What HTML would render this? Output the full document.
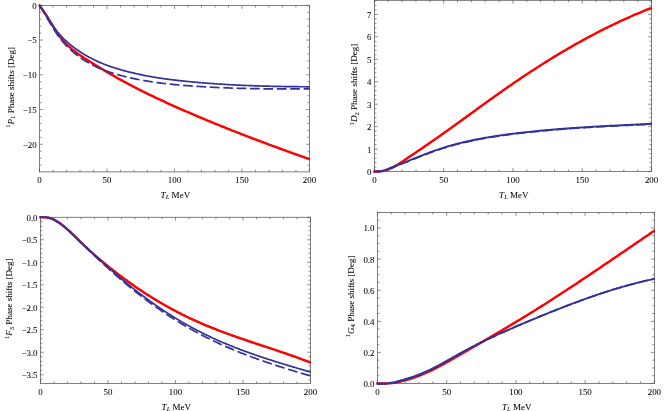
<!DOCTYPE html>
<html><head><meta charset="utf-8"><title>Phase shifts</title>
<style>
html,body{margin:0;padding:0;background:#fff;}
body{width:664px;height:411px;overflow:hidden;font-family:"Liberation Serif",serif;}
svg{display:block;will-change:transform;filter:opacity(1);}
</style></head><body>
<svg width="664" height="411" viewBox="0 0 664 411">
<rect width="664" height="411" fill="#ffffff"/>
<g id="panel1">
<g stroke="#4a4a4a" stroke-width="0.7" fill="none">
<rect x="39.55" y="5.50" width="269.90" height="166.40"/>
<path d="M39.55,171.90v-3.37M39.55,5.50v3.37M53.04,171.90v-2.02M53.04,5.50v2.02M66.54,171.90v-2.02M66.54,5.50v2.02M80.03,171.90v-2.02M80.03,5.50v2.02M93.53,171.90v-2.02M93.53,5.50v2.02M107.02,171.90v-3.37M107.02,5.50v3.37M120.52,171.90v-2.02M120.52,5.50v2.02M134.01,171.90v-2.02M134.01,5.50v2.02M147.51,171.90v-2.02M147.51,5.50v2.02M161.00,171.90v-2.02M161.00,5.50v2.02M174.50,171.90v-3.37M174.50,5.50v3.37M188.00,171.90v-2.02M188.00,5.50v2.02M201.49,171.90v-2.02M201.49,5.50v2.02M214.99,171.90v-2.02M214.99,5.50v2.02M228.48,171.90v-2.02M228.48,5.50v2.02M241.98,171.90v-3.37M241.98,5.50v3.37M255.47,171.90v-2.02M255.47,5.50v2.02M268.96,171.90v-2.02M268.96,5.50v2.02M282.46,171.90v-2.02M282.46,5.50v2.02M295.95,171.90v-2.02M295.95,5.50v2.02M309.45,171.90v-3.37M309.45,5.50v3.37M39.55,165.15h2.02M309.45,165.15h-2.02M39.55,158.20h2.02M309.45,158.20h-2.02M39.55,151.25h2.02M309.45,151.25h-2.02M39.55,144.30h3.37M309.45,144.30h-3.37M39.55,137.35h2.02M309.45,137.35h-2.02M39.55,130.40h2.02M309.45,130.40h-2.02M39.55,123.45h2.02M309.45,123.45h-2.02M39.55,116.50h2.02M309.45,116.50h-2.02M39.55,109.55h3.37M309.45,109.55h-3.37M39.55,102.60h2.02M309.45,102.60h-2.02M39.55,95.65h2.02M309.45,95.65h-2.02M39.55,88.70h2.02M309.45,88.70h-2.02M39.55,81.75h2.02M309.45,81.75h-2.02M39.55,74.80h3.37M309.45,74.80h-3.37M39.55,67.85h2.02M309.45,67.85h-2.02M39.55,60.90h2.02M309.45,60.90h-2.02M39.55,53.95h2.02M309.45,53.95h-2.02M39.55,47.00h2.02M309.45,47.00h-2.02M39.55,40.05h3.37M309.45,40.05h-3.37M39.55,33.10h2.02M309.45,33.10h-2.02M39.55,26.15h2.02M309.45,26.15h-2.02M39.55,19.20h2.02M309.45,19.20h-2.02M39.55,12.25h2.02M309.45,12.25h-2.02M39.55,5.30h3.37M309.45,5.30h-3.37" stroke-width="0.62"/>
</g>
<clipPath id="c0"><rect x="38.35" y="4.00" width="272.30" height="169.40"/></clipPath>
<g clip-path="url(#c0)" fill="none" stroke-linejoin="round">
<path d="M38.94,4.55 L39.55,5.47 L40.67,7.14 L41.80,8.77 L42.92,10.38 L44.05,12.00 L45.17,13.64 L46.30,15.31 L47.42,17.03 L48.55,18.81 L49.67,20.64 L50.80,22.51 L51.92,24.39 L53.04,26.28 L54.17,28.14 L55.29,29.96 L56.42,31.72 L57.54,33.41 L58.67,35.02 L59.79,36.54 L60.92,37.99 L62.04,39.37 L63.17,40.68 L64.29,41.93 L65.42,43.12 L66.54,44.26 L67.66,45.36 L68.79,46.41 L69.91,47.42 L71.04,48.40 L72.16,49.35 L73.29,50.26 L74.41,51.15 L75.54,52.01 L76.66,52.85 L77.79,53.66 L78.91,54.46 L80.03,55.23 L81.16,56.00 L82.28,56.74 L83.41,57.48 L84.53,58.21 L85.66,58.93 L86.78,59.64 L87.91,60.36 L89.03,61.07 L90.16,61.77 L91.28,62.48 L92.41,63.18 L93.53,63.88 L94.65,64.57 L95.78,65.26 L96.90,65.95 L98.03,66.64 L99.15,67.32 L100.28,68.00 L101.40,68.68 L102.53,69.36 L103.65,70.03 L104.78,70.69 L105.90,71.36 L107.02,72.02 L108.15,72.68 L109.27,73.34 L110.40,73.99 L111.52,74.64 L112.65,75.28 L113.77,75.92 L114.90,76.56 L116.02,77.20 L117.15,77.83 L118.27,78.46 L119.40,79.09 L120.52,79.71 L121.64,80.33 L122.77,80.95 L123.89,81.56 L125.02,82.17 L126.14,82.77 L127.27,83.38 L128.39,83.98 L129.52,84.57 L130.64,85.17 L131.77,85.76 L132.89,86.35 L134.01,86.93 L135.14,87.51 L136.26,88.09 L137.39,88.67 L138.51,89.24 L139.64,89.81 L140.76,90.38 L141.89,90.94 L143.01,91.51 L144.14,92.07 L145.26,92.62 L146.39,93.18 L147.51,93.73 L148.63,94.28 L149.76,94.83 L150.88,95.37 L152.01,95.91 L153.13,96.45 L154.26,96.99 L155.38,97.53 L156.51,98.06 L157.63,98.59 L158.76,99.12 L159.88,99.65 L161.00,100.17 L162.13,100.69 L163.25,101.21 L164.38,101.73 L165.50,102.25 L166.63,102.76 L167.75,103.28 L168.88,103.79 L170.00,104.30 L171.13,104.80 L172.25,105.31 L173.38,105.81 L174.50,106.32 L175.62,106.82 L176.75,107.32 L177.87,107.82 L179.00,108.31 L180.12,108.81 L181.25,109.30 L182.37,109.79 L183.50,110.28 L184.62,110.77 L185.75,111.26 L186.87,111.75 L188.00,112.23 L189.12,112.72 L190.24,113.20 L191.37,113.68 L192.49,114.16 L193.62,114.64 L194.74,115.12 L195.87,115.60 L196.99,116.08 L198.12,116.55 L199.24,117.03 L200.37,117.50 L201.49,117.97 L202.61,118.44 L203.74,118.91 L204.86,119.38 L205.99,119.85 L207.11,120.32 L208.24,120.78 L209.36,121.25 L210.49,121.71 L211.61,122.17 L212.74,122.63 L213.86,123.09 L214.99,123.55 L216.11,124.01 L217.23,124.47 L218.36,124.93 L219.48,125.38 L220.61,125.84 L221.73,126.29 L222.86,126.74 L223.98,127.19 L225.11,127.64 L226.23,128.09 L227.36,128.54 L228.48,128.99 L229.60,129.44 L230.73,129.88 L231.85,130.33 L232.98,130.77 L234.10,131.21 L235.23,131.66 L236.35,132.10 L237.48,132.54 L238.60,132.98 L239.73,133.42 L240.85,133.85 L241.97,134.29 L243.10,134.73 L244.22,135.16 L245.35,135.60 L246.47,136.03 L247.60,136.46 L248.72,136.89 L249.85,137.32 L250.97,137.75 L252.10,138.18 L253.22,138.61 L254.35,139.04 L255.47,139.47 L256.59,139.89 L257.72,140.32 L258.84,140.74 L259.97,141.17 L261.09,141.59 L262.22,142.01 L263.34,142.43 L264.47,142.85 L265.59,143.27 L266.72,143.69 L267.84,144.11 L268.96,144.53 L270.09,144.95 L271.21,145.36 L272.34,145.78 L273.46,146.19 L274.59,146.61 L275.71,147.02 L276.84,147.44 L277.96,147.85 L279.09,148.26 L280.21,148.67 L281.34,149.08 L282.46,149.49 L283.58,149.90 L284.71,150.31 L285.83,150.72 L286.96,151.12 L288.08,151.53 L289.21,151.94 L290.33,152.34 L291.46,152.75 L292.58,153.15 L293.71,153.55 L294.83,153.96 L295.95,154.36 L297.08,154.76 L298.20,155.16 L299.33,155.56 L300.45,155.96 L301.58,156.36 L302.70,156.76 L303.83,157.16 L304.95,157.56 L306.08,157.96 L307.20,158.35 L308.33,158.75 L309.45,159.15 L309.85,159.29" stroke="#ff0000" stroke-width="2.45"/>
<path d="M38.89,4.61 L39.55,5.47 L40.67,7.01 L41.80,8.63 L42.92,10.32 L44.05,12.06 L45.17,13.83 L46.30,15.62 L47.42,17.40 L48.55,19.17 L49.67,20.92 L50.80,22.64 L51.92,24.32 L53.04,25.95 L54.17,27.55 L55.29,29.09 L56.42,30.58 L57.54,32.00 L58.67,33.36 L59.79,34.66 L60.92,35.91 L62.04,37.10 L63.17,38.25 L64.29,39.35 L65.42,40.41 L66.54,41.44 L67.66,42.43 L68.79,43.39 L69.91,44.33 L71.04,45.25 L72.16,46.14 L73.29,47.01 L74.41,47.86 L75.54,48.69 L76.66,49.50 L77.79,50.28 L78.91,51.05 L80.03,51.80 L81.16,52.53 L82.28,53.25 L83.41,53.94 L84.53,54.62 L85.66,55.28 L86.78,55.93 L87.91,56.56 L89.03,57.18 L90.16,57.78 L91.28,58.37 L92.41,58.94 L93.53,59.50 L94.65,60.05 L95.78,60.58 L96.90,61.11 L98.03,61.61 L99.15,62.11 L100.28,62.60 L101.40,63.07 L102.53,63.53 L103.65,63.98 L104.78,64.42 L105.90,64.85 L107.02,65.28 L108.15,65.69 L109.27,66.09 L110.40,66.48 L111.52,66.87 L112.65,67.24 L113.77,67.61 L114.90,67.97 L116.02,68.33 L117.15,68.68 L118.27,69.02 L119.40,69.35 L120.52,69.68 L121.64,70.00 L122.77,70.32 L123.89,70.63 L125.02,70.93 L126.14,71.23 L127.27,71.53 L128.39,71.82 L129.52,72.10 L130.64,72.38 L131.77,72.66 L132.89,72.93 L134.01,73.19 L135.14,73.45 L136.26,73.71 L137.39,73.96 L138.51,74.20 L139.64,74.45 L140.76,74.68 L141.89,74.92 L143.01,75.14 L144.14,75.37 L145.26,75.59 L146.39,75.80 L147.51,76.01 L148.63,76.22 L149.76,76.42 L150.88,76.62 L152.01,76.82 L153.13,77.01 L154.26,77.20 L155.38,77.39 L156.51,77.57 L157.63,77.75 L158.76,77.92 L159.88,78.09 L161.00,78.26 L162.13,78.42 L163.25,78.59 L164.38,78.75 L165.50,78.90 L166.63,79.05 L167.75,79.20 L168.88,79.35 L170.00,79.50 L171.13,79.64 L172.25,79.78 L173.38,79.92 L174.50,80.05 L175.62,80.18 L176.75,80.31 L177.87,80.44 L179.00,80.57 L180.12,80.69 L181.25,80.81 L182.37,80.93 L183.50,81.05 L184.62,81.17 L185.75,81.28 L186.87,81.40 L188.00,81.51 L189.12,81.62 L190.24,81.73 L191.37,81.83 L192.49,81.94 L193.62,82.04 L194.74,82.15 L195.87,82.25 L196.99,82.35 L198.12,82.45 L199.24,82.54 L200.37,82.64 L201.49,82.73 L202.61,82.83 L203.74,82.92 L204.86,83.01 L205.99,83.10 L207.11,83.18 L208.24,83.27 L209.36,83.35 L210.49,83.44 L211.61,83.52 L212.74,83.60 L213.86,83.68 L214.99,83.76 L216.11,83.84 L217.23,83.91 L218.36,83.99 L219.48,84.06 L220.61,84.13 L221.73,84.20 L222.86,84.27 L223.98,84.34 L225.11,84.41 L226.23,84.48 L227.36,84.54 L228.48,84.60 L229.60,84.67 L230.73,84.73 L231.85,84.79 L232.98,84.85 L234.10,84.91 L235.23,84.96 L236.35,85.02 L237.48,85.08 L238.60,85.13 L239.73,85.18 L240.85,85.23 L241.97,85.28 L243.10,85.33 L244.22,85.38 L245.35,85.43 L246.47,85.48 L247.60,85.52 L248.72,85.57 L249.85,85.61 L250.97,85.66 L252.10,85.70 L253.22,85.74 L254.35,85.78 L255.47,85.82 L256.59,85.86 L257.72,85.89 L258.84,85.93 L259.97,85.96 L261.09,86.00 L262.22,86.03 L263.34,86.07 L264.47,86.10 L265.59,86.13 L266.72,86.16 L267.84,86.19 L268.96,86.22 L270.09,86.25 L271.21,86.27 L272.34,86.30 L273.46,86.33 L274.59,86.35 L275.71,86.37 L276.84,86.40 L277.96,86.42 L279.09,86.44 L280.21,86.46 L281.34,86.48 L282.46,86.50 L283.58,86.52 L284.71,86.54 L285.83,86.56 L286.96,86.58 L288.08,86.59 L289.21,86.61 L290.33,86.62 L291.46,86.64 L292.58,86.65 L293.71,86.67 L294.83,86.68 L295.95,86.69 L297.08,86.70 L298.20,86.72 L299.33,86.73 L300.45,86.74 L301.58,86.75 L302.70,86.75 L303.83,86.76 L304.95,86.77 L306.08,86.78 L307.20,86.79 L308.33,86.79 L309.45,86.80 L309.85,86.80" stroke="#32329a" stroke-width="1.7"/>
<path d="M38.91,4.60 L39.55,5.47 L40.67,7.10 L41.80,8.84 L42.92,10.68 L44.05,12.58 L45.17,14.53 L46.30,16.51 L47.42,18.49 L48.55,20.46 L49.67,22.41 L50.80,24.32 L51.92,26.20 L53.04,28.05 L54.17,29.84 L55.29,31.59 L56.42,33.27 L57.54,34.90 L58.67,36.46 L59.79,37.95 L60.92,39.39 L62.04,40.78 L63.17,42.11 L64.29,43.39 L65.42,44.62 L66.54,45.81 L67.66,46.96 L68.79,48.07 L69.91,49.14 L71.04,50.19 L72.16,51.20 L73.29,52.18 L74.41,53.13 L75.54,54.05 L76.66,54.94 L77.79,55.80 L78.91,56.64 L80.03,57.45 L81.16,58.24 L82.28,59.00 L83.41,59.75 L84.53,60.47 L85.66,61.16 L86.78,61.84 L87.91,62.50 L89.03,63.15 L90.16,63.77 L91.28,64.38 L92.41,64.97 L93.53,65.54 L94.65,66.09 L95.78,66.64 L96.90,67.16 L98.03,67.67 L99.15,68.17 L100.28,68.65 L101.40,69.12 L102.53,69.57 L103.65,70.01 L104.78,70.44 L105.90,70.86 L107.02,71.27 L108.15,71.66 L109.27,72.05 L110.40,72.42 L111.52,72.79 L112.65,73.14 L113.77,73.49 L114.90,73.83 L116.02,74.16 L117.15,74.49 L118.27,74.80 L119.40,75.11 L120.52,75.42 L121.64,75.71 L122.77,76.01 L123.89,76.29 L125.02,76.57 L126.14,76.85 L127.27,77.12 L128.39,77.38 L129.52,77.64 L130.64,77.90 L131.77,78.15 L132.89,78.39 L134.01,78.63 L135.14,78.87 L136.26,79.10 L137.39,79.32 L138.51,79.54 L139.64,79.76 L140.76,79.97 L141.89,80.18 L143.01,80.38 L144.14,80.58 L145.26,80.77 L146.39,80.96 L147.51,81.15 L148.63,81.33 L149.76,81.51 L150.88,81.68 L152.01,81.85 L153.13,82.02 L154.26,82.18 L155.38,82.34 L156.51,82.49 L157.63,82.65 L158.76,82.79 L159.88,82.94 L161.00,83.08 L162.13,83.22 L163.25,83.36 L164.38,83.49 L165.50,83.62 L166.63,83.75 L167.75,83.87 L168.88,83.99 L170.00,84.11 L171.13,84.23 L172.25,84.34 L173.38,84.45 L174.50,84.56 L175.62,84.67 L176.75,84.77 L177.87,84.88 L179.00,84.98 L180.12,85.08 L181.25,85.17 L182.37,85.27 L183.50,85.36 L184.62,85.45 L185.75,85.54 L186.87,85.63 L188.00,85.71 L189.12,85.80 L190.24,85.88 L191.37,85.96 L192.49,86.04 L193.62,86.12 L194.74,86.20 L195.87,86.28 L196.99,86.35 L198.12,86.43 L199.24,86.50 L200.37,86.57 L201.49,86.64 L202.61,86.71 L203.74,86.77 L204.86,86.84 L205.99,86.91 L207.11,86.97 L208.24,87.03 L209.36,87.09 L210.49,87.15 L211.61,87.21 L212.74,87.27 L213.86,87.32 L214.99,87.38 L216.11,87.43 L217.23,87.48 L218.36,87.53 L219.48,87.58 L220.61,87.63 L221.73,87.68 L222.86,87.73 L223.98,87.77 L225.11,87.82 L226.23,87.86 L227.36,87.91 L228.48,87.95 L229.60,87.99 L230.73,88.03 L231.85,88.07 L232.98,88.10 L234.10,88.14 L235.23,88.18 L236.35,88.21 L237.48,88.24 L238.60,88.28 L239.73,88.31 L240.85,88.34 L241.97,88.37 L243.10,88.40 L244.22,88.43 L245.35,88.45 L246.47,88.48 L247.60,88.51 L248.72,88.53 L249.85,88.55 L250.97,88.58 L252.10,88.60 L253.22,88.62 L254.35,88.64 L255.47,88.66 L256.59,88.68 L257.72,88.70 L258.84,88.72 L259.97,88.73 L261.09,88.75 L262.22,88.77 L263.34,88.78 L264.47,88.80 L265.59,88.81 L266.72,88.82 L267.84,88.84 L268.96,88.85 L270.09,88.86 L271.21,88.87 L272.34,88.88 L273.46,88.89 L274.59,88.90 L275.71,88.91 L276.84,88.91 L277.96,88.92 L279.09,88.93 L280.21,88.93 L281.34,88.94 L282.46,88.94 L283.58,88.95 L284.71,88.95 L285.83,88.96 L286.96,88.96 L288.08,88.96 L289.21,88.97 L290.33,88.97 L291.46,88.97 L292.58,88.97 L293.71,88.97 L294.83,88.97 L295.95,88.97 L297.08,88.97 L298.20,88.97 L299.33,88.97 L300.45,88.97 L301.58,88.97 L302.70,88.97 L303.83,88.96 L304.95,88.96 L306.08,88.96 L307.20,88.96 L308.33,88.95 L309.45,88.95 L309.85,88.95" stroke="#32329a" stroke-width="1.7" stroke-dasharray="9.7 3.7" stroke-dashoffset="-1.4"/>
</g>
<g font-family="Liberation Serif, serif" font-size="8.9" fill="#000000" stroke="#000000" stroke-width="0.05">
<text x="39.55" y="183.30" text-anchor="middle">0</text>
<text x="107.02" y="183.30" text-anchor="middle">50</text>
<text x="174.50" y="183.30" text-anchor="middle">100</text>
<text x="241.98" y="183.30" text-anchor="middle">150</text>
<text x="309.45" y="183.30" text-anchor="middle">200</text>
<text x="36.65" y="8.70" text-anchor="end">0</text>
<text x="36.65" y="43.45" text-anchor="end">−5</text>
<text x="36.65" y="78.20" text-anchor="end">−10</text>
<text x="36.65" y="112.95" text-anchor="end">−15</text>
<text x="36.65" y="147.70" text-anchor="end">−20</text>
</g>
<text x="175.40" y="197.60" text-anchor="middle" font-family="Liberation Serif, serif" font-size="9.06" fill="#000000" stroke="#000000" stroke-width="0.05"><tspan font-style="italic">T</tspan><tspan font-style="italic" font-size="6.6" dy="1.6">L</tspan><tspan dy="-1.6"> MeV</tspan></text>
<text transform="translate(13.70,87.35) rotate(-90)" text-anchor="middle" font-family="Liberation Serif, serif" font-size="9.06" fill="#000000" stroke="#000000" stroke-width="0.05"><tspan font-size="6.6" dy="-3.4">1</tspan><tspan font-style="italic" dy="3.4">P</tspan><tspan font-size="6.6" dy="1.6">1</tspan><tspan dy="-1.6"> Phase shifts [Deg]</tspan></text>
</g>
<g id="panel2">
<g stroke="#4a4a4a" stroke-width="0.7" fill="none">
<rect x="374.40" y="0.30" width="277.15" height="171.25"/>
<path d="M374.40,171.55v-3.46M374.40,0.30v3.46M388.26,171.55v-2.08M388.26,0.30v2.08M402.11,171.55v-2.08M402.11,0.30v2.08M415.97,171.55v-2.08M415.97,0.30v2.08M429.83,171.55v-2.08M429.83,0.30v2.08M443.69,171.55v-3.46M443.69,0.30v3.46M457.54,171.55v-2.08M457.54,0.30v2.08M471.40,171.55v-2.08M471.40,0.30v2.08M485.26,171.55v-2.08M485.26,0.30v2.08M499.12,171.55v-2.08M499.12,0.30v2.08M512.97,171.55v-3.46M512.97,0.30v3.46M526.83,171.55v-2.08M526.83,0.30v2.08M540.69,171.55v-2.08M540.69,0.30v2.08M554.55,171.55v-2.08M554.55,0.30v2.08M568.40,171.55v-2.08M568.40,0.30v2.08M582.26,171.55v-3.46M582.26,0.30v3.46M596.12,171.55v-2.08M596.12,0.30v2.08M609.98,171.55v-2.08M609.98,0.30v2.08M623.83,171.55v-2.08M623.83,0.30v2.08M637.69,171.55v-2.08M637.69,0.30v2.08M651.55,171.55v-3.46M651.55,0.30v3.46M374.40,171.55h3.46M651.55,171.55h-3.46M374.40,167.06h2.08M651.55,167.06h-2.08M374.40,162.57h2.08M651.55,162.57h-2.08M374.40,158.08h2.08M651.55,158.08h-2.08M374.40,153.59h2.08M651.55,153.59h-2.08M374.40,149.10h3.46M651.55,149.10h-3.46M374.40,144.61h2.08M651.55,144.61h-2.08M374.40,140.12h2.08M651.55,140.12h-2.08M374.40,135.63h2.08M651.55,135.63h-2.08M374.40,131.14h2.08M651.55,131.14h-2.08M374.40,126.65h3.46M651.55,126.65h-3.46M374.40,122.16h2.08M651.55,122.16h-2.08M374.40,117.67h2.08M651.55,117.67h-2.08M374.40,113.18h2.08M651.55,113.18h-2.08M374.40,108.69h2.08M651.55,108.69h-2.08M374.40,104.20h3.46M651.55,104.20h-3.46M374.40,99.71h2.08M651.55,99.71h-2.08M374.40,95.22h2.08M651.55,95.22h-2.08M374.40,90.73h2.08M651.55,90.73h-2.08M374.40,86.24h2.08M651.55,86.24h-2.08M374.40,81.75h3.46M651.55,81.75h-3.46M374.40,77.26h2.08M651.55,77.26h-2.08M374.40,72.77h2.08M651.55,72.77h-2.08M374.40,68.28h2.08M651.55,68.28h-2.08M374.40,63.79h2.08M651.55,63.79h-2.08M374.40,59.30h3.46M651.55,59.30h-3.46M374.40,54.81h2.08M651.55,54.81h-2.08M374.40,50.32h2.08M651.55,50.32h-2.08M374.40,45.83h2.08M651.55,45.83h-2.08M374.40,41.34h2.08M651.55,41.34h-2.08M374.40,36.85h3.46M651.55,36.85h-3.46M374.40,32.36h2.08M651.55,32.36h-2.08M374.40,27.87h2.08M651.55,27.87h-2.08M374.40,23.38h2.08M651.55,23.38h-2.08M374.40,18.89h2.08M651.55,18.89h-2.08M374.40,14.40h3.46M651.55,14.40h-3.46M374.40,9.91h2.08M651.55,9.91h-2.08M374.40,5.42h2.08M651.55,5.42h-2.08M374.40,0.93h2.08M651.55,0.93h-2.08" stroke-width="0.62"/>
</g>
<clipPath id="c1"><rect x="373.20" y="-1.20" width="279.55" height="174.25"/></clipPath>
<g clip-path="url(#c1)" fill="none" stroke-linejoin="round">
<path d="M373.30,171.64 L374.40,171.60 L375.55,171.55 L376.71,171.51 L377.86,171.45 L379.02,171.38 L380.17,171.28 L381.33,171.14 L382.48,170.96 L383.64,170.73 L384.79,170.46 L385.95,170.14 L387.10,169.78 L388.26,169.37 L389.41,168.92 L390.57,168.43 L391.72,167.89 L392.88,167.31 L394.03,166.70 L395.19,166.06 L396.34,165.39 L397.50,164.70 L398.65,163.98 L399.81,163.24 L400.96,162.49 L402.11,161.73 L403.27,160.96 L404.42,160.19 L405.58,159.41 L406.73,158.63 L407.89,157.85 L409.04,157.07 L410.20,156.29 L411.35,155.51 L412.51,154.73 L413.66,153.95 L414.82,153.17 L415.97,152.39 L417.13,151.60 L418.28,150.82 L419.44,150.03 L420.59,149.24 L421.75,148.46 L422.90,147.67 L424.06,146.88 L425.21,146.08 L426.37,145.29 L427.52,144.50 L428.68,143.70 L429.83,142.90 L430.98,142.10 L432.14,141.30 L433.29,140.50 L434.45,139.69 L435.60,138.89 L436.76,138.08 L437.91,137.27 L439.07,136.46 L440.22,135.64 L441.38,134.83 L442.53,134.01 L443.69,133.19 L444.84,132.37 L446.00,131.55 L447.15,130.72 L448.31,129.90 L449.46,129.07 L450.62,128.25 L451.77,127.42 L452.93,126.59 L454.08,125.76 L455.24,124.93 L456.39,124.09 L457.54,123.26 L458.70,122.43 L459.85,121.59 L461.01,120.76 L462.16,119.92 L463.32,119.09 L464.47,118.25 L465.63,117.41 L466.78,116.57 L467.94,115.74 L469.09,114.90 L470.25,114.06 L471.40,113.22 L472.56,112.39 L473.71,111.55 L474.87,110.71 L476.02,109.87 L477.18,109.04 L478.33,108.20 L479.49,107.36 L480.64,106.53 L481.80,105.69 L482.95,104.86 L484.11,104.02 L485.26,103.19 L486.41,102.36 L487.57,101.53 L488.72,100.70 L489.88,99.87 L491.03,99.04 L492.19,98.21 L493.34,97.39 L494.50,96.56 L495.65,95.74 L496.81,94.92 L497.96,94.10 L499.12,93.28 L500.27,92.46 L501.43,91.64 L502.58,90.83 L503.74,90.02 L504.89,89.21 L506.05,88.40 L507.20,87.59 L508.36,86.79 L509.51,85.99 L510.67,85.19 L511.82,84.39 L512.97,83.60 L514.13,82.80 L515.28,82.01 L516.44,81.23 L517.59,80.44 L518.75,79.66 L519.90,78.88 L521.06,78.10 L522.21,77.32 L523.37,76.55 L524.52,75.78 L525.68,75.01 L526.83,74.25 L527.99,73.48 L529.14,72.72 L530.30,71.96 L531.45,71.21 L532.61,70.45 L533.76,69.70 L534.92,68.96 L536.07,68.21 L537.23,67.47 L538.38,66.73 L539.54,65.99 L540.69,65.25 L541.84,64.52 L543.00,63.79 L544.15,63.06 L545.31,62.34 L546.46,61.62 L547.62,60.90 L548.77,60.18 L549.93,59.47 L551.08,58.76 L552.24,58.05 L553.39,57.34 L554.55,56.64 L555.70,55.94 L556.86,55.24 L558.01,54.54 L559.17,53.85 L560.32,53.16 L561.48,52.47 L562.63,51.79 L563.79,51.11 L564.94,50.43 L566.10,49.75 L567.25,49.08 L568.40,48.41 L569.56,47.74 L570.71,47.07 L571.87,46.41 L573.02,45.75 L574.18,45.09 L575.33,44.44 L576.49,43.79 L577.64,43.14 L578.80,42.49 L579.95,41.85 L581.11,41.21 L582.26,40.57 L583.42,39.94 L584.57,39.31 L585.73,38.68 L586.88,38.05 L588.04,37.43 L589.19,36.81 L590.35,36.20 L591.50,35.58 L592.66,34.97 L593.81,34.36 L594.97,33.76 L596.12,33.15 L597.27,32.56 L598.43,31.96 L599.58,31.37 L600.74,30.78 L601.89,30.19 L603.05,29.60 L604.20,29.02 L605.36,28.45 L606.51,27.87 L607.67,27.30 L608.82,26.73 L609.98,26.16 L611.13,25.60 L612.29,25.04 L613.44,24.48 L614.60,23.93 L615.75,23.38 L616.91,22.83 L618.06,22.29 L619.22,21.74 L620.37,21.21 L621.53,20.67 L622.68,20.14 L623.84,19.61 L624.99,19.08 L626.14,18.56 L627.30,18.04 L628.45,17.53 L629.61,17.01 L630.76,16.50 L631.92,16.00 L633.07,15.49 L634.23,14.99 L635.38,14.49 L636.54,14.00 L637.69,13.51 L638.85,13.02 L640.00,12.54 L641.16,12.06 L642.31,11.58 L643.47,11.10 L644.62,10.63 L645.78,10.17 L646.93,9.70 L648.09,9.24 L649.24,8.78 L650.40,8.33 L651.55,7.87 L651.95,7.72" stroke="#ff0000" stroke-width="2.45"/>
<path d="M373.32,171.82 L374.40,171.58 L375.55,171.42 L376.71,171.34 L377.86,171.29 L379.02,171.25 L380.17,171.18 L381.33,171.05 L382.48,170.84 L383.64,170.55 L384.79,170.19 L385.95,169.79 L387.10,169.34 L388.26,168.88 L389.41,168.40 L390.57,167.92 L391.72,167.45 L392.88,166.99 L394.03,166.52 L395.19,166.06 L396.34,165.60 L397.50,165.15 L398.65,164.69 L399.81,164.24 L400.96,163.79 L402.11,163.34 L403.27,162.88 L404.42,162.43 L405.58,161.97 L406.73,161.51 L407.89,161.05 L409.04,160.59 L410.20,160.13 L411.35,159.67 L412.51,159.21 L413.66,158.75 L414.82,158.28 L415.97,157.82 L417.13,157.36 L418.28,156.90 L419.44,156.45 L420.59,155.99 L421.75,155.54 L422.90,155.09 L424.06,154.64 L425.21,154.19 L426.37,153.75 L427.52,153.31 L428.68,152.87 L429.83,152.44 L430.98,152.01 L432.14,151.59 L433.29,151.17 L434.45,150.76 L435.60,150.36 L436.76,149.96 L437.91,149.56 L439.07,149.17 L440.22,148.79 L441.38,148.41 L442.53,148.04 L443.69,147.68 L444.84,147.32 L446.00,146.96 L447.15,146.61 L448.31,146.27 L449.46,145.93 L450.62,145.60 L451.77,145.28 L452.93,144.95 L454.08,144.64 L455.24,144.33 L456.39,144.02 L457.54,143.72 L458.70,143.42 L459.85,143.13 L461.01,142.84 L462.16,142.56 L463.32,142.28 L464.47,142.01 L465.63,141.74 L466.78,141.48 L467.94,141.22 L469.09,140.96 L470.25,140.71 L471.40,140.46 L472.56,140.22 L473.71,139.98 L474.87,139.75 L476.02,139.51 L477.18,139.29 L478.33,139.06 L479.49,138.84 L480.64,138.62 L481.80,138.41 L482.95,138.20 L484.11,137.99 L485.26,137.79 L486.41,137.59 L487.57,137.39 L488.72,137.20 L489.88,137.01 L491.03,136.82 L492.19,136.64 L493.34,136.45 L494.50,136.28 L495.65,136.10 L496.81,135.92 L497.96,135.75 L499.12,135.58 L500.27,135.42 L501.43,135.25 L502.58,135.09 L503.74,134.93 L504.89,134.77 L506.05,134.62 L507.20,134.46 L508.36,134.31 L509.51,134.16 L510.67,134.01 L511.82,133.87 L512.97,133.72 L514.13,133.58 L515.28,133.44 L516.44,133.30 L517.59,133.16 L518.75,133.02 L519.90,132.88 L521.06,132.75 L522.21,132.62 L523.37,132.49 L524.52,132.36 L525.68,132.23 L526.83,132.10 L527.99,131.97 L529.14,131.85 L530.30,131.73 L531.45,131.61 L532.61,131.49 L533.76,131.37 L534.92,131.25 L536.07,131.13 L537.23,131.02 L538.38,130.91 L539.54,130.79 L540.69,130.68 L541.84,130.57 L543.00,130.46 L544.15,130.36 L545.31,130.25 L546.46,130.15 L547.62,130.04 L548.77,129.94 L549.93,129.84 L551.08,129.74 L552.24,129.64 L553.39,129.54 L554.55,129.44 L555.70,129.35 L556.86,129.25 L558.01,129.16 L559.17,129.07 L560.32,128.98 L561.48,128.88 L562.63,128.80 L563.79,128.71 L564.94,128.62 L566.10,128.53 L567.25,128.45 L568.40,128.36 L569.56,128.28 L570.71,128.19 L571.87,128.11 L573.02,128.03 L574.18,127.95 L575.33,127.87 L576.49,127.79 L577.64,127.71 L578.80,127.64 L579.95,127.56 L581.11,127.49 L582.26,127.41 L583.42,127.34 L584.57,127.26 L585.73,127.19 L586.88,127.12 L588.04,127.05 L589.19,126.98 L590.35,126.91 L591.50,126.84 L592.66,126.77 L593.81,126.70 L594.97,126.64 L596.12,126.57 L597.27,126.50 L598.43,126.44 L599.58,126.37 L600.74,126.31 L601.89,126.25 L603.05,126.18 L604.20,126.12 L605.36,126.06 L606.51,126.00 L607.67,125.93 L608.82,125.87 L609.98,125.81 L611.13,125.75 L612.29,125.69 L613.44,125.64 L614.60,125.58 L615.75,125.52 L616.91,125.46 L618.06,125.40 L619.22,125.35 L620.37,125.29 L621.53,125.23 L622.68,125.18 L623.84,125.12 L624.99,125.06 L626.14,125.01 L627.30,124.95 L628.45,124.90 L629.61,124.84 L630.76,124.79 L631.92,124.73 L633.07,124.68 L634.23,124.63 L635.38,124.57 L636.54,124.52 L637.69,124.46 L638.85,124.41 L640.00,124.36 L641.16,124.30 L642.31,124.25 L643.47,124.20 L644.62,124.14 L645.78,124.09 L646.93,124.04 L648.09,123.98 L649.24,123.93 L650.40,123.88 L651.55,123.82 L651.95,123.81" stroke="#32329a" stroke-width="1.9"/>
<path d="M373.32,172.22 L374.40,171.98 L375.55,171.82 L376.71,171.74 L377.86,171.69 L379.02,171.65 L380.17,171.58 L381.33,171.45 L382.48,171.24 L383.64,170.95 L384.79,170.59 L385.95,170.19 L387.10,169.74 L388.26,169.28 L389.41,168.80 L390.57,168.32 L391.72,167.85 L392.88,167.39 L394.03,166.92 L395.19,166.46 L396.34,166.00 L397.50,165.55 L398.65,165.09 L399.81,164.64 L400.96,164.19 L402.11,163.74 L403.27,163.28 L404.42,162.83 L405.58,162.37 L406.73,161.91 L407.89,161.45 L409.04,160.99 L410.20,160.53 L411.35,160.07 L412.51,159.61 L413.66,159.15 L414.82,158.68 L415.97,158.22 L417.13,157.76 L418.28,157.30 L419.44,156.85 L420.59,156.39 L421.75,155.94 L422.90,155.49 L424.06,155.04 L425.21,154.59 L426.37,154.15 L427.52,153.71 L428.68,153.27 L429.83,152.84 L430.98,152.41 L432.14,151.99 L433.29,151.57 L434.45,151.16 L435.60,150.76 L436.76,150.36 L437.91,149.96 L439.07,149.57 L440.22,149.19 L441.38,148.81 L442.53,148.44 L443.69,148.08 L444.84,147.72 L446.00,147.36 L447.15,147.01 L448.31,146.67 L449.46,146.33 L450.62,146.00 L451.77,145.68 L452.93,145.35 L454.08,145.04 L455.24,144.73 L456.39,144.42 L457.54,144.12 L458.70,143.82 L459.85,143.53 L461.01,143.24 L462.16,142.96 L463.32,142.68 L464.47,142.41 L465.63,142.14 L466.78,141.88 L467.94,141.62 L469.09,141.36 L470.25,141.11 L471.40,140.86 L472.56,140.62 L473.71,140.38 L474.87,140.15 L476.02,139.91 L477.18,139.69 L478.33,139.46 L479.49,139.24 L480.64,139.02 L481.80,138.81 L482.95,138.60 L484.11,138.39 L485.26,138.19 L486.41,137.99 L487.57,137.79 L488.72,137.60 L489.88,137.41 L491.03,137.22 L492.19,137.04 L493.34,136.85 L494.50,136.68 L495.65,136.50 L496.81,136.32 L497.96,136.15 L499.12,135.98 L500.27,135.82 L501.43,135.65 L502.58,135.49 L503.74,135.33 L504.89,135.17 L506.05,135.02 L507.20,134.86 L508.36,134.71 L509.51,134.56 L510.67,134.41 L511.82,134.27 L512.97,134.12 L514.13,133.98 L515.28,133.84 L516.44,133.70 L517.59,133.56 L518.75,133.42 L519.90,133.28 L521.06,133.15 L522.21,133.02 L523.37,132.89 L524.52,132.76 L525.68,132.63 L526.83,132.50 L527.99,132.37 L529.14,132.25 L530.30,132.13 L531.45,132.01 L532.61,131.89 L533.76,131.77 L534.92,131.65 L536.07,131.53 L537.23,131.42 L538.38,131.31 L539.54,131.19 L540.69,131.08 L541.84,130.97 L543.00,130.86 L544.15,130.76 L545.31,130.65 L546.46,130.55 L547.62,130.44 L548.77,130.34 L549.93,130.24 L551.08,130.14 L552.24,130.04 L553.39,129.94 L554.55,129.84 L555.70,129.75 L556.86,129.65 L558.01,129.56 L559.17,129.47 L560.32,129.38 L561.48,129.28 L562.63,129.20 L563.79,129.11 L564.94,129.02 L566.10,128.93 L567.25,128.85 L568.40,128.76 L569.56,128.68 L570.71,128.59 L571.87,128.51 L573.02,128.43 L574.18,128.35 L575.33,128.27 L576.49,128.19 L577.64,128.11 L578.80,128.04 L579.95,127.96 L581.11,127.89 L582.26,127.81 L583.42,127.74 L584.57,127.66 L585.73,127.59 L586.88,127.52 L588.04,127.45 L589.19,127.38 L590.35,127.31 L591.50,127.24 L592.66,127.17 L593.81,127.10 L594.97,127.04 L596.12,126.97 L597.27,126.90 L598.43,126.84 L599.58,126.77 L600.74,126.71 L601.89,126.65 L603.05,126.58 L604.20,126.52 L605.36,126.46 L606.51,126.40 L607.67,126.33 L608.82,126.27 L609.98,126.21 L611.13,126.15 L612.29,126.09 L613.44,126.04 L614.60,125.98 L615.75,125.92 L616.91,125.86 L618.06,125.80 L619.22,125.75 L620.37,125.69 L621.53,125.63 L622.68,125.58 L623.84,125.52 L624.99,125.46 L626.14,125.41 L627.30,125.35 L628.45,125.30 L629.61,125.24 L630.76,125.19 L631.92,125.13 L633.07,125.08 L634.23,125.03 L635.38,124.97 L636.54,124.92 L637.69,124.86 L638.85,124.81 L640.00,124.76 L641.16,124.70 L642.31,124.65 L643.47,124.60 L644.62,124.54 L645.78,124.49 L646.93,124.44 L648.09,124.38 L649.24,124.33 L650.40,124.28 L651.55,124.22 L651.95,124.21" stroke="#32329a" stroke-width="1.7" stroke-dasharray="9.7 3.7" stroke-dashoffset="-1.4"/>
</g>
<g font-family="Liberation Serif, serif" font-size="8.9" fill="#000000" stroke="#000000" stroke-width="0.05">
<text x="374.40" y="182.95" text-anchor="middle">0</text>
<text x="443.69" y="182.95" text-anchor="middle">50</text>
<text x="512.97" y="182.95" text-anchor="middle">100</text>
<text x="582.26" y="182.95" text-anchor="middle">150</text>
<text x="651.55" y="182.95" text-anchor="middle">200</text>
<text x="371.50" y="174.95" text-anchor="end">0</text>
<text x="371.50" y="152.50" text-anchor="end">1</text>
<text x="371.50" y="130.05" text-anchor="end">2</text>
<text x="371.50" y="107.60" text-anchor="end">3</text>
<text x="371.50" y="85.15" text-anchor="end">4</text>
<text x="371.50" y="62.70" text-anchor="end">5</text>
<text x="371.50" y="40.25" text-anchor="end">6</text>
<text x="371.50" y="17.80" text-anchor="end">7</text>
</g>
<text x="513.87" y="197.60" text-anchor="middle" font-family="Liberation Serif, serif" font-size="9.06" fill="#000000" stroke="#000000" stroke-width="0.05"><tspan font-style="italic">T</tspan><tspan font-style="italic" font-size="6.6" dy="1.6">L</tspan><tspan dy="-1.6"> MeV</tspan></text>
<text transform="translate(357.30,84.50) rotate(-90)" text-anchor="middle" font-family="Liberation Serif, serif" font-size="9.06" fill="#000000" stroke="#000000" stroke-width="0.05"><tspan font-size="6.6" dy="-3.4">1</tspan><tspan font-style="italic" dy="3.4">D</tspan><tspan font-size="6.6" dy="1.6">2</tspan><tspan dy="-1.6"> Phase shifts [Deg]</tspan></text>
</g>
<g id="panel3">
<g stroke="#4a4a4a" stroke-width="0.7" fill="none">
<rect x="40.45" y="217.25" width="270.05" height="166.20"/>
<path d="M40.45,383.45v-3.38M40.45,217.25v3.38M53.95,383.45v-2.03M53.95,217.25v2.03M67.45,383.45v-2.03M67.45,217.25v2.03M80.96,383.45v-2.03M80.96,217.25v2.03M94.46,383.45v-2.03M94.46,217.25v2.03M107.96,383.45v-3.38M107.96,217.25v3.38M121.47,383.45v-2.03M121.47,217.25v2.03M134.97,383.45v-2.03M134.97,217.25v2.03M148.47,383.45v-2.03M148.47,217.25v2.03M161.97,383.45v-2.03M161.97,217.25v2.03M175.48,383.45v-3.38M175.48,217.25v3.38M188.98,383.45v-2.03M188.98,217.25v2.03M202.48,383.45v-2.03M202.48,217.25v2.03M215.98,383.45v-2.03M215.98,217.25v2.03M229.49,383.45v-2.03M229.49,217.25v2.03M242.99,383.45v-3.38M242.99,217.25v3.38M256.49,383.45v-2.03M256.49,217.25v2.03M269.99,383.45v-2.03M269.99,217.25v2.03M283.50,383.45v-2.03M283.50,217.25v2.03M297.00,383.45v-2.03M297.00,217.25v2.03M310.50,383.45v-3.38M310.50,217.25v3.38M40.45,379.25h2.03M310.50,379.25h-2.03M40.45,374.75h3.38M310.50,374.75h-3.38M40.45,370.25h2.03M310.50,370.25h-2.03M40.45,365.75h2.03M310.50,365.75h-2.03M40.45,361.25h2.03M310.50,361.25h-2.03M40.45,356.75h2.03M310.50,356.75h-2.03M40.45,352.25h3.38M310.50,352.25h-3.38M40.45,347.75h2.03M310.50,347.75h-2.03M40.45,343.25h2.03M310.50,343.25h-2.03M40.45,338.75h2.03M310.50,338.75h-2.03M40.45,334.25h2.03M310.50,334.25h-2.03M40.45,329.75h3.38M310.50,329.75h-3.38M40.45,325.25h2.03M310.50,325.25h-2.03M40.45,320.75h2.03M310.50,320.75h-2.03M40.45,316.25h2.03M310.50,316.25h-2.03M40.45,311.75h2.03M310.50,311.75h-2.03M40.45,307.25h3.38M310.50,307.25h-3.38M40.45,302.75h2.03M310.50,302.75h-2.03M40.45,298.25h2.03M310.50,298.25h-2.03M40.45,293.75h2.03M310.50,293.75h-2.03M40.45,289.25h2.03M310.50,289.25h-2.03M40.45,284.75h3.38M310.50,284.75h-3.38M40.45,280.25h2.03M310.50,280.25h-2.03M40.45,275.75h2.03M310.50,275.75h-2.03M40.45,271.25h2.03M310.50,271.25h-2.03M40.45,266.75h2.03M310.50,266.75h-2.03M40.45,262.25h3.38M310.50,262.25h-3.38M40.45,257.75h2.03M310.50,257.75h-2.03M40.45,253.25h2.03M310.50,253.25h-2.03M40.45,248.75h2.03M310.50,248.75h-2.03M40.45,244.25h2.03M310.50,244.25h-2.03M40.45,239.75h3.38M310.50,239.75h-3.38M40.45,235.25h2.03M310.50,235.25h-2.03M40.45,230.75h2.03M310.50,230.75h-2.03M40.45,226.25h2.03M310.50,226.25h-2.03M40.45,221.75h2.03M310.50,221.75h-2.03M40.45,217.25h3.38M310.50,217.25h-3.38" stroke-width="0.62"/>
</g>
<clipPath id="c2"><rect x="39.25" y="215.75" width="272.45" height="169.20"/></clipPath>
<g clip-path="url(#c2)" fill="none" stroke-linejoin="round">
<path d="M39.35,217.26 L40.45,217.20 L41.58,217.16 L42.70,217.15 L43.83,217.18 L44.95,217.24 L46.08,217.35 L47.20,217.51 L48.33,217.72 L49.45,218.00 L50.58,218.35 L51.70,218.75 L52.83,219.21 L53.95,219.73 L55.08,220.30 L56.20,220.92 L57.33,221.59 L58.45,222.31 L59.58,223.07 L60.70,223.87 L61.83,224.71 L62.95,225.58 L64.08,226.49 L65.20,227.43 L66.33,228.40 L67.46,229.40 L68.58,230.41 L69.71,231.45 L70.83,232.50 L71.96,233.57 L73.08,234.66 L74.21,235.75 L75.33,236.85 L76.46,237.95 L77.58,239.05 L78.71,240.16 L79.83,241.26 L80.96,242.35 L82.08,243.44 L83.21,244.52 L84.33,245.59 L85.46,246.65 L86.58,247.70 L87.71,248.74 L88.83,249.78 L89.96,250.81 L91.08,251.83 L92.21,252.84 L93.33,253.84 L94.46,254.84 L95.59,255.83 L96.71,256.81 L97.84,257.78 L98.96,258.75 L100.09,259.71 L101.21,260.66 L102.34,261.61 L103.46,262.55 L104.59,263.48 L105.71,264.41 L106.84,265.32 L107.96,266.24 L109.09,267.14 L110.21,268.04 L111.34,268.93 L112.46,269.82 L113.59,270.70 L114.71,271.58 L115.84,272.45 L116.96,273.31 L118.09,274.17 L119.21,275.02 L120.34,275.87 L121.47,276.71 L122.59,277.55 L123.72,278.38 L124.84,279.20 L125.97,280.02 L127.09,280.84 L128.22,281.65 L129.34,282.45 L130.47,283.25 L131.59,284.05 L132.72,284.84 L133.84,285.62 L134.97,286.40 L136.09,287.17 L137.22,287.94 L138.34,288.71 L139.47,289.46 L140.59,290.22 L141.72,290.97 L142.84,291.71 L143.97,292.45 L145.09,293.18 L146.22,293.91 L147.34,294.63 L148.47,295.35 L149.60,296.06 L150.72,296.76 L151.85,297.47 L152.97,298.16 L154.10,298.86 L155.22,299.54 L156.35,300.22 L157.47,300.90 L158.60,301.57 L159.72,302.24 L160.85,302.90 L161.97,303.56 L163.10,304.21 L164.22,304.85 L165.35,305.49 L166.47,306.13 L167.60,306.76 L168.72,307.39 L169.85,308.01 L170.97,308.62 L172.10,309.24 L173.22,309.84 L174.35,310.44 L175.48,311.04 L176.60,311.63 L177.73,312.22 L178.85,312.80 L179.98,313.37 L181.10,313.95 L182.23,314.51 L183.35,315.07 L184.48,315.63 L185.60,316.18 L186.73,316.73 L187.85,317.27 L188.98,317.81 L190.10,318.34 L191.23,318.87 L192.35,319.39 L193.48,319.91 L194.60,320.42 L195.73,320.93 L196.85,321.43 L197.98,321.93 L199.10,322.43 L200.23,322.92 L201.35,323.41 L202.48,323.89 L203.61,324.37 L204.73,324.85 L205.86,325.32 L206.98,325.78 L208.11,326.25 L209.23,326.71 L210.36,327.16 L211.48,327.62 L212.61,328.07 L213.73,328.51 L214.86,328.96 L215.98,329.40 L217.11,329.83 L218.23,330.27 L219.36,330.70 L220.48,331.13 L221.61,331.55 L222.73,331.97 L223.86,332.39 L224.98,332.81 L226.11,333.22 L227.23,333.64 L228.36,334.05 L229.49,334.45 L230.61,334.86 L231.74,335.26 L232.86,335.66 L233.99,336.06 L235.11,336.46 L236.24,336.85 L237.36,337.25 L238.49,337.64 L239.61,338.03 L240.74,338.42 L241.86,338.80 L242.99,339.19 L244.11,339.57 L245.24,339.96 L246.36,340.34 L247.49,340.72 L248.61,341.10 L249.74,341.48 L250.86,341.85 L251.99,342.23 L253.11,342.61 L254.24,342.98 L255.36,343.36 L256.49,343.73 L257.62,344.10 L258.74,344.48 L259.87,344.85 L260.99,345.22 L262.12,345.60 L263.24,345.97 L264.37,346.34 L265.49,346.71 L266.62,347.09 L267.74,347.46 L268.87,347.83 L269.99,348.21 L271.12,348.58 L272.24,348.95 L273.37,349.33 L274.49,349.71 L275.62,350.08 L276.74,350.46 L277.87,350.84 L278.99,351.22 L280.12,351.60 L281.24,351.98 L282.37,352.36 L283.50,352.75 L284.62,353.13 L285.75,353.52 L286.87,353.90 L288.00,354.29 L289.12,354.69 L290.25,355.08 L291.37,355.47 L292.50,355.87 L293.62,356.27 L294.75,356.67 L295.87,357.07 L297.00,357.47 L298.12,357.88 L299.25,358.29 L300.37,358.70 L301.50,359.12 L302.62,359.53 L303.75,359.95 L304.87,360.37 L306.00,360.80 L307.12,361.22 L308.25,361.65 L309.37,362.09 L310.50,362.52 L310.90,362.68" stroke="#ff0000" stroke-width="2.45"/>
<path d="M39.35,217.20 L40.45,217.20 L41.58,217.19 L42.70,217.19 L43.83,217.21 L44.95,217.25 L46.08,217.34 L47.20,217.47 L48.33,217.68 L49.45,217.96 L50.58,218.31 L51.70,218.73 L52.83,219.22 L53.95,219.77 L55.08,220.38 L56.20,221.03 L57.33,221.74 L58.45,222.48 L59.58,223.26 L60.70,224.08 L61.83,224.93 L62.95,225.80 L64.08,226.70 L65.20,227.63 L66.33,228.58 L67.46,229.56 L68.58,230.55 L69.71,231.56 L70.83,232.59 L71.96,233.63 L73.08,234.68 L74.21,235.74 L75.33,236.82 L76.46,237.89 L77.58,238.98 L78.71,240.06 L79.83,241.15 L80.96,242.23 L82.08,243.31 L83.21,244.39 L84.33,245.47 L85.46,246.54 L86.58,247.61 L87.71,248.68 L88.83,249.75 L89.96,250.81 L91.08,251.86 L92.21,252.92 L93.33,253.97 L94.46,255.01 L95.59,256.06 L96.71,257.10 L97.84,258.13 L98.96,259.16 L100.09,260.19 L101.21,261.22 L102.34,262.24 L103.46,263.25 L104.59,264.26 L105.71,265.27 L106.84,266.27 L107.96,267.27 L109.09,268.27 L110.21,269.26 L111.34,270.25 L112.46,271.23 L113.59,272.20 L114.71,273.18 L115.84,274.14 L116.96,275.11 L118.09,276.06 L119.21,277.02 L120.34,277.97 L121.47,278.91 L122.59,279.85 L123.72,280.78 L124.84,281.71 L125.97,282.63 L127.09,283.55 L128.22,284.46 L129.34,285.37 L130.47,286.27 L131.59,287.17 L132.72,288.06 L133.84,288.95 L134.97,289.83 L136.09,290.71 L137.22,291.58 L138.34,292.45 L139.47,293.31 L140.59,294.16 L141.72,295.02 L142.84,295.86 L143.97,296.70 L145.09,297.54 L146.22,298.37 L147.34,299.19 L148.47,300.01 L149.60,300.83 L150.72,301.64 L151.85,302.44 L152.97,303.24 L154.10,304.03 L155.22,304.82 L156.35,305.60 L157.47,306.38 L158.60,307.15 L159.72,307.92 L160.85,308.68 L161.97,309.44 L163.10,310.19 L164.22,310.93 L165.35,311.67 L166.47,312.41 L167.60,313.14 L168.72,313.86 L169.85,314.58 L170.97,315.30 L172.10,316.00 L173.22,316.71 L174.35,317.40 L175.48,318.10 L176.60,318.78 L177.73,319.46 L178.85,320.14 L179.98,320.81 L181.10,321.47 L182.23,322.13 L183.35,322.79 L184.48,323.43 L185.60,324.08 L186.73,324.71 L187.85,325.35 L188.98,325.97 L190.10,326.59 L191.23,327.21 L192.35,327.82 L193.48,328.42 L194.60,329.02 L195.73,329.62 L196.85,330.21 L197.98,330.79 L199.10,331.37 L200.23,331.94 L201.35,332.51 L202.48,333.07 L203.61,333.63 L204.73,334.19 L205.86,334.73 L206.98,335.28 L208.11,335.82 L209.23,336.35 L210.36,336.88 L211.48,337.41 L212.61,337.93 L213.73,338.45 L214.86,338.96 L215.98,339.47 L217.11,339.97 L218.23,340.47 L219.36,340.97 L220.48,341.46 L221.61,341.95 L222.73,342.43 L223.86,342.91 L224.98,343.39 L226.11,343.86 L227.23,344.33 L228.36,344.79 L229.49,345.25 L230.61,345.71 L231.74,346.16 L232.86,346.61 L233.99,347.06 L235.11,347.50 L236.24,347.94 L237.36,348.38 L238.49,348.81 L239.61,349.24 L240.74,349.67 L241.86,350.09 L242.99,350.51 L244.11,350.93 L245.24,351.34 L246.36,351.75 L247.49,352.16 L248.61,352.57 L249.74,352.97 L250.86,353.37 L251.99,353.77 L253.11,354.16 L254.24,354.56 L255.36,354.95 L256.49,355.33 L257.62,355.72 L258.74,356.10 L259.87,356.48 L260.99,356.86 L262.12,357.24 L263.24,357.61 L264.37,357.98 L265.49,358.35 L266.62,358.72 L267.74,359.09 L268.87,359.45 L269.99,359.81 L271.12,360.17 L272.24,360.53 L273.37,360.89 L274.49,361.25 L275.62,361.60 L276.74,361.95 L277.87,362.30 L278.99,362.65 L280.12,363.00 L281.24,363.35 L282.37,363.69 L283.50,364.04 L284.62,364.38 L285.75,364.73 L286.87,365.07 L288.00,365.41 L289.12,365.75 L290.25,366.09 L291.37,366.42 L292.50,366.76 L293.62,367.10 L294.75,367.43 L295.87,367.77 L297.00,368.10 L298.12,368.44 L299.25,368.77 L300.37,369.10 L301.50,369.43 L302.62,369.77 L303.75,370.10 L304.87,370.43 L306.00,370.76 L307.12,371.09 L308.25,371.43 L309.37,371.76 L310.50,372.09 L310.90,372.21" stroke="#32329a" stroke-width="1.7"/>
<path d="M39.35,217.20 L40.45,217.20 L41.58,217.19 L42.70,217.19 L43.83,217.21 L44.95,217.25 L46.08,217.34 L47.20,217.48 L48.33,217.68 L49.45,217.96 L50.58,218.31 L51.70,218.73 L52.83,219.22 L53.95,219.77 L55.08,220.37 L56.20,221.03 L57.33,221.73 L58.45,222.48 L59.58,223.27 L60.70,224.09 L61.83,224.94 L62.95,225.82 L64.08,226.74 L65.20,227.68 L66.33,228.64 L67.46,229.63 L68.58,230.64 L69.71,231.66 L70.83,232.71 L71.96,233.76 L73.08,234.84 L74.21,235.92 L75.33,237.01 L76.46,238.11 L77.58,239.21 L78.71,240.32 L79.83,241.43 L80.96,242.54 L82.08,243.64 L83.21,244.75 L84.33,245.85 L85.46,246.95 L86.58,248.04 L87.71,249.13 L88.83,250.22 L89.96,251.31 L91.08,252.39 L92.21,253.47 L93.33,254.55 L94.46,255.62 L95.59,256.69 L96.71,257.75 L97.84,258.81 L98.96,259.87 L100.09,260.92 L101.21,261.97 L102.34,263.02 L103.46,264.06 L104.59,265.10 L105.71,266.13 L106.84,267.16 L107.96,268.19 L109.09,269.20 L110.21,270.22 L111.34,271.23 L112.46,272.24 L113.59,273.24 L114.71,274.23 L115.84,275.22 L116.96,276.21 L118.09,277.19 L119.21,278.17 L120.34,279.14 L121.47,280.10 L122.59,281.06 L123.72,282.01 L124.84,282.96 L125.97,283.90 L127.09,284.84 L128.22,285.77 L129.34,286.70 L130.47,287.62 L131.59,288.54 L132.72,289.45 L133.84,290.35 L134.97,291.25 L136.09,292.14 L137.22,293.03 L138.34,293.91 L139.47,294.79 L140.59,295.66 L141.72,296.53 L142.84,297.39 L143.97,298.25 L145.09,299.10 L146.22,299.94 L147.34,300.78 L148.47,301.62 L149.60,302.44 L150.72,303.27 L151.85,304.09 L152.97,304.90 L154.10,305.71 L155.22,306.51 L156.35,307.30 L157.47,308.09 L158.60,308.88 L159.72,309.66 L160.85,310.44 L161.97,311.21 L163.10,311.97 L164.22,312.73 L165.35,313.48 L166.47,314.23 L167.60,314.98 L168.72,315.71 L169.85,316.45 L170.97,317.17 L172.10,317.90 L173.22,318.61 L174.35,319.32 L175.48,320.03 L176.60,320.73 L177.73,321.43 L178.85,322.12 L179.98,322.80 L181.10,323.48 L182.23,324.16 L183.35,324.83 L184.48,325.49 L185.60,326.15 L186.73,326.80 L187.85,327.45 L188.98,328.09 L190.10,328.73 L191.23,329.37 L192.35,329.99 L193.48,330.62 L194.60,331.23 L195.73,331.85 L196.85,332.45 L197.98,333.06 L199.10,333.66 L200.23,334.25 L201.35,334.84 L202.48,335.42 L203.61,336.00 L204.73,336.57 L205.86,337.14 L206.98,337.71 L208.11,338.27 L209.23,338.83 L210.36,339.38 L211.48,339.92 L212.61,340.47 L213.73,341.01 L214.86,341.54 L215.98,342.07 L217.11,342.60 L218.23,343.12 L219.36,343.64 L220.48,344.15 L221.61,344.66 L222.73,345.16 L223.86,345.67 L224.98,346.16 L226.11,346.66 L227.23,347.15 L228.36,347.63 L229.49,348.12 L230.61,348.60 L231.74,349.07 L232.86,349.54 L233.99,350.01 L235.11,350.48 L236.24,350.94 L237.36,351.40 L238.49,351.85 L239.61,352.30 L240.74,352.75 L241.86,353.19 L242.99,353.64 L244.11,354.07 L245.24,354.51 L246.36,354.94 L247.49,355.37 L248.61,355.80 L249.74,356.22 L250.86,356.64 L251.99,357.06 L253.11,357.47 L254.24,357.88 L255.36,358.29 L256.49,358.70 L257.62,359.10 L258.74,359.50 L259.87,359.90 L260.99,360.30 L262.12,360.69 L263.24,361.08 L264.37,361.47 L265.49,361.86 L266.62,362.24 L267.74,362.63 L268.87,363.00 L269.99,363.38 L271.12,363.76 L272.24,364.13 L273.37,364.50 L274.49,364.87 L275.62,365.24 L276.74,365.60 L277.87,365.97 L278.99,366.33 L280.12,366.69 L281.24,367.05 L282.37,367.40 L283.50,367.76 L284.62,368.11 L285.75,368.46 L286.87,368.81 L288.00,369.16 L289.12,369.51 L290.25,369.86 L291.37,370.20 L292.50,370.54 L293.62,370.88 L294.75,371.23 L295.87,371.56 L297.00,371.90 L298.12,372.24 L299.25,372.58 L300.37,372.91 L301.50,373.25 L302.62,373.58 L303.75,373.91 L304.87,374.24 L306.00,374.57 L307.12,374.90 L308.25,375.23 L309.37,375.56 L310.50,375.89 L310.90,376.00" stroke="#32329a" stroke-width="1.7" stroke-dasharray="9.7 3.7" stroke-dashoffset="-1.4"/>
</g>
<g font-family="Liberation Serif, serif" font-size="8.9" fill="#000000" stroke="#000000" stroke-width="0.05">
<text x="40.45" y="394.85" text-anchor="middle">0</text>
<text x="107.96" y="394.85" text-anchor="middle">50</text>
<text x="175.48" y="394.85" text-anchor="middle">100</text>
<text x="242.99" y="394.85" text-anchor="middle">150</text>
<text x="310.50" y="394.85" text-anchor="middle">200</text>
<text x="37.55" y="220.65" text-anchor="end">0.0</text>
<text x="37.55" y="243.15" text-anchor="end">−0.5</text>
<text x="37.55" y="265.65" text-anchor="end">−1.0</text>
<text x="37.55" y="288.15" text-anchor="end">−1.5</text>
<text x="37.55" y="310.65" text-anchor="end">−2.0</text>
<text x="37.55" y="333.15" text-anchor="end">−2.5</text>
<text x="37.55" y="355.65" text-anchor="end">−3.0</text>
<text x="37.55" y="378.15" text-anchor="end">−3.5</text>
</g>
<text x="176.38" y="409.70" text-anchor="middle" font-family="Liberation Serif, serif" font-size="9.06" fill="#000000" stroke="#000000" stroke-width="0.05"><tspan font-style="italic">T</tspan><tspan font-style="italic" font-size="6.6" dy="1.6">L</tspan><tspan dy="-1.6"> MeV</tspan></text>
<text transform="translate(12.00,298.70) rotate(-90)" text-anchor="middle" font-family="Liberation Serif, serif" font-size="9.06" fill="#000000" stroke="#000000" stroke-width="0.05"><tspan font-size="6.6" dy="-3.4">1</tspan><tspan font-style="italic" dy="3.4">F</tspan><tspan font-size="6.6" dy="1.6">3</tspan><tspan dy="-1.6"> Phase shifts [Deg]</tspan></text>
</g>
<g id="panel4">
<g stroke="#4a4a4a" stroke-width="0.7" fill="none">
<rect x="377.40" y="212.40" width="276.95" height="171.05"/>
<path d="M377.40,383.45v-3.46M377.40,212.40v3.46M391.25,383.45v-2.08M391.25,212.40v2.08M405.09,383.45v-2.08M405.09,212.40v2.08M418.94,383.45v-2.08M418.94,212.40v2.08M432.79,383.45v-2.08M432.79,212.40v2.08M446.64,383.45v-3.46M446.64,212.40v3.46M460.49,383.45v-2.08M460.49,212.40v2.08M474.33,383.45v-2.08M474.33,212.40v2.08M488.18,383.45v-2.08M488.18,212.40v2.08M502.03,383.45v-2.08M502.03,212.40v2.08M515.88,383.45v-3.46M515.88,212.40v3.46M529.72,383.45v-2.08M529.72,212.40v2.08M543.57,383.45v-2.08M543.57,212.40v2.08M557.42,383.45v-2.08M557.42,212.40v2.08M571.26,383.45v-2.08M571.26,212.40v2.08M585.11,383.45v-3.46M585.11,212.40v3.46M598.96,383.45v-2.08M598.96,212.40v2.08M612.81,383.45v-2.08M612.81,212.40v2.08M626.65,383.45v-2.08M626.65,212.40v2.08M640.50,383.45v-2.08M640.50,212.40v2.08M654.35,383.45v-3.46M654.35,212.40v3.46M377.40,383.50h3.46M654.35,383.50h-3.46M377.40,375.73h2.08M654.35,375.73h-2.08M377.40,367.95h2.08M654.35,367.95h-2.08M377.40,360.18h2.08M654.35,360.18h-2.08M377.40,352.40h3.46M654.35,352.40h-3.46M377.40,344.62h2.08M654.35,344.62h-2.08M377.40,336.85h2.08M654.35,336.85h-2.08M377.40,329.07h2.08M654.35,329.07h-2.08M377.40,321.30h3.46M654.35,321.30h-3.46M377.40,313.52h2.08M654.35,313.52h-2.08M377.40,305.75h2.08M654.35,305.75h-2.08M377.40,297.98h2.08M654.35,297.98h-2.08M377.40,290.20h3.46M654.35,290.20h-3.46M377.40,282.43h2.08M654.35,282.43h-2.08M377.40,274.65h2.08M654.35,274.65h-2.08M377.40,266.88h2.08M654.35,266.88h-2.08M377.40,259.10h3.46M654.35,259.10h-3.46M377.40,251.33h2.08M654.35,251.33h-2.08M377.40,243.55h2.08M654.35,243.55h-2.08M377.40,235.78h2.08M654.35,235.78h-2.08M377.40,228.00h3.46M654.35,228.00h-3.46M377.40,220.22h2.08M654.35,220.22h-2.08M377.40,212.45h2.08M654.35,212.45h-2.08" stroke-width="0.62"/>
</g>
<clipPath id="c3"><rect x="376.20" y="210.90" width="279.35" height="174.05"/></clipPath>
<g clip-path="url(#c3)" fill="none" stroke-linejoin="round">
<path d="M376.30,383.53 L377.40,383.46 L378.55,383.40 L379.71,383.38 L380.86,383.37 L382.02,383.38 L383.17,383.39 L384.32,383.40 L385.48,383.41 L386.63,383.40 L387.79,383.37 L388.94,383.31 L390.09,383.22 L391.25,383.11 L392.40,382.97 L393.56,382.81 L394.71,382.62 L395.86,382.42 L397.02,382.20 L398.17,381.96 L399.33,381.71 L400.48,381.46 L401.63,381.19 L402.79,380.91 L403.94,380.62 L405.09,380.32 L406.25,380.01 L407.40,379.69 L408.56,379.36 L409.71,379.02 L410.86,378.66 L412.02,378.30 L413.17,377.92 L414.33,377.53 L415.48,377.13 L416.63,376.72 L417.79,376.29 L418.94,375.85 L420.10,375.40 L421.25,374.94 L422.40,374.47 L423.56,373.98 L424.71,373.48 L425.87,372.97 L427.02,372.45 L428.17,371.92 L429.33,371.39 L430.48,370.84 L431.64,370.28 L432.79,369.71 L433.94,369.14 L435.10,368.56 L436.25,367.96 L437.41,367.37 L438.56,366.76 L439.71,366.15 L440.87,365.53 L442.02,364.91 L443.18,364.28 L444.33,363.65 L445.48,363.01 L446.64,362.37 L447.79,361.72 L448.95,361.07 L450.10,360.41 L451.25,359.76 L452.41,359.10 L453.56,358.43 L454.72,357.77 L455.87,357.10 L457.02,356.44 L458.18,355.77 L459.33,355.10 L460.49,354.43 L461.64,353.76 L462.79,353.10 L463.95,352.43 L465.10,351.76 L466.25,351.09 L467.41,350.42 L468.56,349.76 L469.72,349.09 L470.87,348.42 L472.02,347.75 L473.18,347.09 L474.33,346.42 L475.49,345.75 L476.64,345.08 L477.79,344.41 L478.95,343.74 L480.10,343.07 L481.26,342.41 L482.41,341.74 L483.56,341.07 L484.72,340.39 L485.87,339.72 L487.03,339.05 L488.18,338.38 L489.33,337.71 L490.49,337.03 L491.64,336.36 L492.80,335.69 L493.95,335.01 L495.10,334.34 L496.26,333.66 L497.41,332.98 L498.57,332.30 L499.72,331.63 L500.87,330.95 L502.03,330.27 L503.18,329.58 L504.34,328.90 L505.49,328.22 L506.64,327.53 L507.80,326.85 L508.95,326.16 L510.11,325.47 L511.26,324.78 L512.41,324.09 L513.57,323.40 L514.72,322.71 L515.88,322.02 L517.03,321.32 L518.18,320.63 L519.34,319.93 L520.49,319.23 L521.64,318.53 L522.80,317.83 L523.95,317.12 L525.11,316.42 L526.26,315.71 L527.41,315.00 L528.57,314.29 L529.72,313.58 L530.88,312.87 L532.03,312.15 L533.18,311.44 L534.34,310.72 L535.49,310.00 L536.65,309.28 L537.80,308.55 L538.95,307.83 L540.11,307.10 L541.26,306.38 L542.42,305.65 L543.57,304.92 L544.72,304.18 L545.88,303.45 L547.03,302.72 L548.19,301.98 L549.34,301.24 L550.49,300.50 L551.65,299.76 L552.80,299.02 L553.96,298.28 L555.11,297.53 L556.26,296.79 L557.42,296.04 L558.57,295.29 L559.73,294.54 L560.88,293.79 L562.03,293.04 L563.19,292.29 L564.34,291.53 L565.50,290.78 L566.65,290.02 L567.80,289.27 L568.96,288.51 L570.11,287.75 L571.26,286.99 L572.42,286.23 L573.57,285.46 L574.73,284.70 L575.88,283.94 L577.03,283.17 L578.19,282.40 L579.34,281.64 L580.50,280.87 L581.65,280.10 L582.80,279.33 L583.96,278.56 L585.11,277.79 L586.27,277.02 L587.42,276.24 L588.57,275.47 L589.73,274.69 L590.88,273.92 L592.04,273.14 L593.19,272.37 L594.34,271.59 L595.50,270.81 L596.65,270.03 L597.81,269.25 L598.96,268.47 L600.11,267.69 L601.27,266.91 L602.42,266.13 L603.58,265.35 L604.73,264.57 L605.88,263.78 L607.04,263.00 L608.19,262.22 L609.35,261.43 L610.50,260.65 L611.65,259.86 L612.81,259.08 L613.96,258.29 L615.12,257.51 L616.27,256.72 L617.42,255.94 L618.58,255.15 L619.73,254.36 L620.89,253.57 L622.04,252.79 L623.19,252.00 L624.35,251.21 L625.50,250.42 L626.65,249.64 L627.81,248.85 L628.96,248.06 L630.12,247.27 L631.27,246.48 L632.42,245.69 L633.58,244.91 L634.73,244.12 L635.89,243.33 L637.04,242.54 L638.19,241.75 L639.35,240.96 L640.50,240.18 L641.66,239.39 L642.81,238.60 L643.96,237.81 L645.12,237.02 L646.27,236.24 L647.43,235.45 L648.58,234.66 L649.73,233.88 L650.89,233.09 L652.04,232.30 L653.20,231.52 L654.35,230.73 L654.75,230.46" stroke="#ff0000" stroke-width="2.45"/>
<path d="M376.30,383.57 L377.40,383.46 L378.55,383.39 L379.71,383.35 L380.86,383.34 L382.02,383.34 L383.17,383.35 L384.32,383.36 L385.48,383.36 L386.63,383.33 L387.79,383.27 L388.94,383.17 L390.09,383.03 L391.25,382.84 L392.40,382.62 L393.56,382.37 L394.71,382.10 L395.86,381.80 L397.02,381.49 L398.17,381.17 L399.33,380.84 L400.48,380.51 L401.63,380.19 L402.79,379.86 L403.94,379.52 L405.09,379.19 L406.25,378.85 L407.40,378.51 L408.56,378.16 L409.71,377.80 L410.86,377.44 L412.02,377.07 L413.17,376.68 L414.33,376.29 L415.48,375.89 L416.63,375.48 L417.79,375.05 L418.94,374.61 L420.10,374.15 L421.25,373.69 L422.40,373.20 L423.56,372.71 L424.71,372.20 L425.87,371.68 L427.02,371.15 L428.17,370.61 L429.33,370.06 L430.48,369.49 L431.64,368.92 L432.79,368.34 L433.94,367.76 L435.10,367.16 L436.25,366.56 L437.41,365.95 L438.56,365.33 L439.71,364.71 L440.87,364.08 L442.02,363.45 L443.18,362.81 L444.33,362.17 L445.48,361.53 L446.64,360.89 L447.79,360.24 L448.95,359.59 L450.10,358.94 L451.25,358.29 L452.41,357.64 L453.56,356.99 L454.72,356.35 L455.87,355.70 L457.02,355.06 L458.18,354.41 L459.33,353.77 L460.49,353.14 L461.64,352.51 L462.79,351.88 L463.95,351.26 L465.10,350.64 L466.25,350.03 L467.41,349.42 L468.56,348.81 L469.72,348.21 L470.87,347.61 L472.02,347.01 L473.18,346.42 L474.33,345.83 L475.49,345.25 L476.64,344.67 L477.79,344.09 L478.95,343.52 L480.10,342.94 L481.26,342.38 L482.41,341.81 L483.56,341.25 L484.72,340.69 L485.87,340.14 L487.03,339.59 L488.18,339.04 L489.33,338.49 L490.49,337.95 L491.64,337.40 L492.80,336.87 L493.95,336.33 L495.10,335.80 L496.26,335.27 L497.41,334.74 L498.57,334.21 L499.72,333.69 L500.87,333.17 L502.03,332.65 L503.18,332.13 L504.34,331.62 L505.49,331.11 L506.64,330.59 L507.80,330.09 L508.95,329.58 L510.11,329.07 L511.26,328.57 L512.41,328.07 L513.57,327.57 L514.72,327.07 L515.88,326.58 L517.03,326.08 L518.18,325.59 L519.34,325.09 L520.49,324.60 L521.64,324.11 L522.80,323.63 L523.95,323.14 L525.11,322.65 L526.26,322.17 L527.41,321.68 L528.57,321.20 L529.72,320.72 L530.88,320.23 L532.03,319.75 L533.18,319.27 L534.34,318.79 L535.49,318.32 L536.65,317.84 L537.80,317.36 L538.95,316.89 L540.11,316.41 L541.26,315.94 L542.42,315.47 L543.57,315.00 L544.72,314.53 L545.88,314.06 L547.03,313.59 L548.19,313.12 L549.34,312.66 L550.49,312.20 L551.65,311.73 L552.80,311.27 L553.96,310.81 L555.11,310.35 L556.26,309.90 L557.42,309.44 L558.57,308.99 L559.73,308.53 L560.88,308.08 L562.03,307.63 L563.19,307.18 L564.34,306.74 L565.50,306.29 L566.65,305.85 L567.80,305.41 L568.96,304.97 L570.11,304.53 L571.26,304.09 L572.42,303.65 L573.57,303.22 L574.73,302.79 L575.88,302.36 L577.03,301.93 L578.19,301.51 L579.34,301.08 L580.50,300.66 L581.65,300.24 L582.80,299.82 L583.96,299.41 L585.11,298.99 L586.27,298.58 L587.42,298.17 L588.57,297.76 L589.73,297.36 L590.88,296.95 L592.04,296.55 L593.19,296.15 L594.34,295.76 L595.50,295.36 L596.65,294.97 L597.81,294.58 L598.96,294.19 L600.11,293.81 L601.27,293.42 L602.42,293.04 L603.58,292.67 L604.73,292.29 L605.88,291.92 L607.04,291.55 L608.19,291.18 L609.35,290.81 L610.50,290.45 L611.65,290.09 L612.81,289.73 L613.96,289.38 L615.12,289.03 L616.27,288.68 L617.42,288.33 L618.58,287.99 L619.73,287.65 L620.89,287.31 L622.04,286.97 L623.19,286.64 L624.35,286.31 L625.50,285.99 L626.65,285.66 L627.81,285.34 L628.96,285.03 L630.12,284.71 L631.27,284.40 L632.42,284.09 L633.58,283.79 L634.73,283.49 L635.89,283.19 L637.04,282.89 L638.19,282.60 L639.35,282.31 L640.50,282.03 L641.66,281.74 L642.81,281.47 L643.96,281.19 L645.12,280.92 L646.27,280.65 L647.43,280.38 L648.58,280.12 L649.73,279.86 L650.89,279.61 L652.04,279.36 L653.20,279.11 L654.35,278.87 L654.75,278.78" stroke="#32329a" stroke-width="1.85"/>
<path d="M376.30,384.27 L377.40,384.16 L378.55,384.08 L379.71,384.04 L380.86,384.02 L382.02,384.02 L383.17,384.02 L384.32,384.03 L385.48,384.01 L386.63,383.98 L387.79,383.92 L388.94,383.81 L390.09,383.66 L391.25,383.47 L392.40,383.25 L393.56,382.99 L394.71,382.71 L395.86,382.41 L397.02,382.09 L398.17,381.77 L399.33,381.43 L400.48,381.10 L401.63,380.77 L402.79,380.43 L403.94,380.09 L405.09,379.75 L406.25,379.41 L407.40,379.06 L408.56,378.70 L409.71,378.34 L410.86,377.97 L412.02,377.59 L413.17,377.21 L414.33,376.81 L415.48,376.40 L416.63,375.98 L417.79,375.55 L418.94,375.10 L420.10,374.64 L421.25,374.17 L422.40,373.68 L423.56,373.18 L424.71,372.66 L425.87,372.14 L427.02,371.60 L428.17,371.06 L429.33,370.50 L430.48,369.93 L431.64,369.35 L432.79,368.77 L433.94,368.17 L435.10,367.57 L436.25,366.96 L437.41,366.35 L438.56,365.72 L439.71,365.10 L440.87,364.46 L442.02,363.83 L443.18,363.19 L444.33,362.54 L445.48,361.89 L446.64,361.24 L447.79,360.59 L448.95,359.93 L450.10,359.28 L451.25,358.62 L452.41,357.97 L453.56,357.31 L454.72,356.66 L455.87,356.01 L457.02,355.36 L458.18,354.71 L459.33,354.07 L460.49,353.42 L461.64,352.79 L462.79,352.16 L463.95,351.53 L465.10,350.90 L466.25,350.28 L467.41,349.67 L468.56,349.05 L469.72,348.45 L470.87,347.84 L472.02,347.24 L473.18,346.64 L474.33,346.05 L475.49,345.46 L476.64,344.87 L477.79,344.29 L478.95,343.71 L480.10,343.13 L481.26,342.56 L482.41,341.99 L483.56,341.42 L484.72,340.86 L485.87,340.30 L487.03,339.74 L488.18,339.18 L489.33,338.63 L490.49,338.08 L491.64,337.53 L492.80,336.99 L493.95,336.45 L495.10,335.91 L496.26,335.37 L497.41,334.84 L498.57,334.31 L499.72,333.78 L500.87,333.25 L502.03,332.73 L503.18,332.20 L504.34,331.68 L505.49,331.16 L506.64,330.65 L507.80,330.13 L508.95,329.62 L510.11,329.11 L511.26,328.60 L512.41,328.09 L513.57,327.59 L514.72,327.09 L515.88,326.58 L517.03,326.08 L518.18,325.59 L519.34,325.09 L520.49,324.60 L521.64,324.11 L522.80,323.63 L523.95,323.14 L525.11,322.65 L526.26,322.17 L527.41,321.68 L528.57,321.20 L529.72,320.72 L530.88,320.23 L532.03,319.75 L533.18,319.27 L534.34,318.79 L535.49,318.32 L536.65,317.84 L537.80,317.36 L538.95,316.89 L540.11,316.41 L541.26,315.94 L542.42,315.47 L543.57,315.00 L544.72,314.53 L545.88,314.06 L547.03,313.59 L548.19,313.12 L549.34,312.66 L550.49,312.20 L551.65,311.73 L552.80,311.27 L553.96,310.81 L555.11,310.35 L556.26,309.90 L557.42,309.44 L558.57,308.99 L559.73,308.53 L560.88,308.08 L562.03,307.63 L563.19,307.18 L564.34,306.74 L565.50,306.29 L566.65,305.85 L567.80,305.41 L568.96,304.97 L570.11,304.53 L571.26,304.09 L572.42,303.65 L573.57,303.22 L574.73,302.79 L575.88,302.36 L577.03,301.93 L578.19,301.51 L579.34,301.08 L580.50,300.66 L581.65,300.24 L582.80,299.82 L583.96,299.41 L585.11,298.99 L586.27,298.58 L587.42,298.17 L588.57,297.76 L589.73,297.36 L590.88,296.95 L592.04,296.55 L593.19,296.15 L594.34,295.76 L595.50,295.36 L596.65,294.97 L597.81,294.58 L598.96,294.19 L600.11,293.81 L601.27,293.42 L602.42,293.04 L603.58,292.67 L604.73,292.29 L605.88,291.92 L607.04,291.55 L608.19,291.18 L609.35,290.81 L610.50,290.45 L611.65,290.09 L612.81,289.73 L613.96,289.38 L615.12,289.03 L616.27,288.68 L617.42,288.33 L618.58,287.99 L619.73,287.65 L620.89,287.31 L622.04,286.97 L623.19,286.64 L624.35,286.31 L625.50,285.99 L626.65,285.66 L627.81,285.34 L628.96,285.03 L630.12,284.71 L631.27,284.40 L632.42,284.09 L633.58,283.79 L634.73,283.49 L635.89,283.19 L637.04,282.89 L638.19,282.60 L639.35,282.31 L640.50,282.03 L641.66,281.74 L642.81,281.47 L643.96,281.19 L645.12,280.92 L646.27,280.65 L647.43,280.38 L648.58,280.12 L649.73,279.86 L650.89,279.61 L652.04,279.36 L653.20,279.11 L654.35,278.87 L654.75,278.78" stroke="#32329a" stroke-width="1.7" stroke-dasharray="9.7 3.7" stroke-dashoffset="-1.4"/>
</g>
<g font-family="Liberation Serif, serif" font-size="8.9" fill="#000000" stroke="#000000" stroke-width="0.05">
<text x="377.40" y="394.85" text-anchor="middle">0</text>
<text x="446.64" y="394.85" text-anchor="middle">50</text>
<text x="515.88" y="394.85" text-anchor="middle">100</text>
<text x="585.11" y="394.85" text-anchor="middle">150</text>
<text x="654.35" y="394.85" text-anchor="middle">200</text>
<text x="374.50" y="386.90" text-anchor="end">0.0</text>
<text x="374.50" y="355.80" text-anchor="end">0.2</text>
<text x="374.50" y="324.70" text-anchor="end">0.4</text>
<text x="374.50" y="293.60" text-anchor="end">0.6</text>
<text x="374.50" y="262.50" text-anchor="end">0.8</text>
<text x="374.50" y="231.40" text-anchor="end">1.0</text>
</g>
<text x="516.77" y="409.70" text-anchor="middle" font-family="Liberation Serif, serif" font-size="9.06" fill="#000000" stroke="#000000" stroke-width="0.05"><tspan font-style="italic">T</tspan><tspan font-style="italic" font-size="6.6" dy="1.6">L</tspan><tspan dy="-1.6"> MeV</tspan></text>
<text transform="translate(353.50,296.40) rotate(-90)" text-anchor="middle" font-family="Liberation Serif, serif" font-size="9.06" fill="#000000" stroke="#000000" stroke-width="0.05"><tspan font-size="6.6" dy="-3.4">1</tspan><tspan font-style="italic" dy="3.4">G</tspan><tspan font-size="6.6" dy="1.6">4</tspan><tspan dy="-1.6"> Phase shifts [Deg]</tspan></text>
</g>
</svg>
</body></html>
